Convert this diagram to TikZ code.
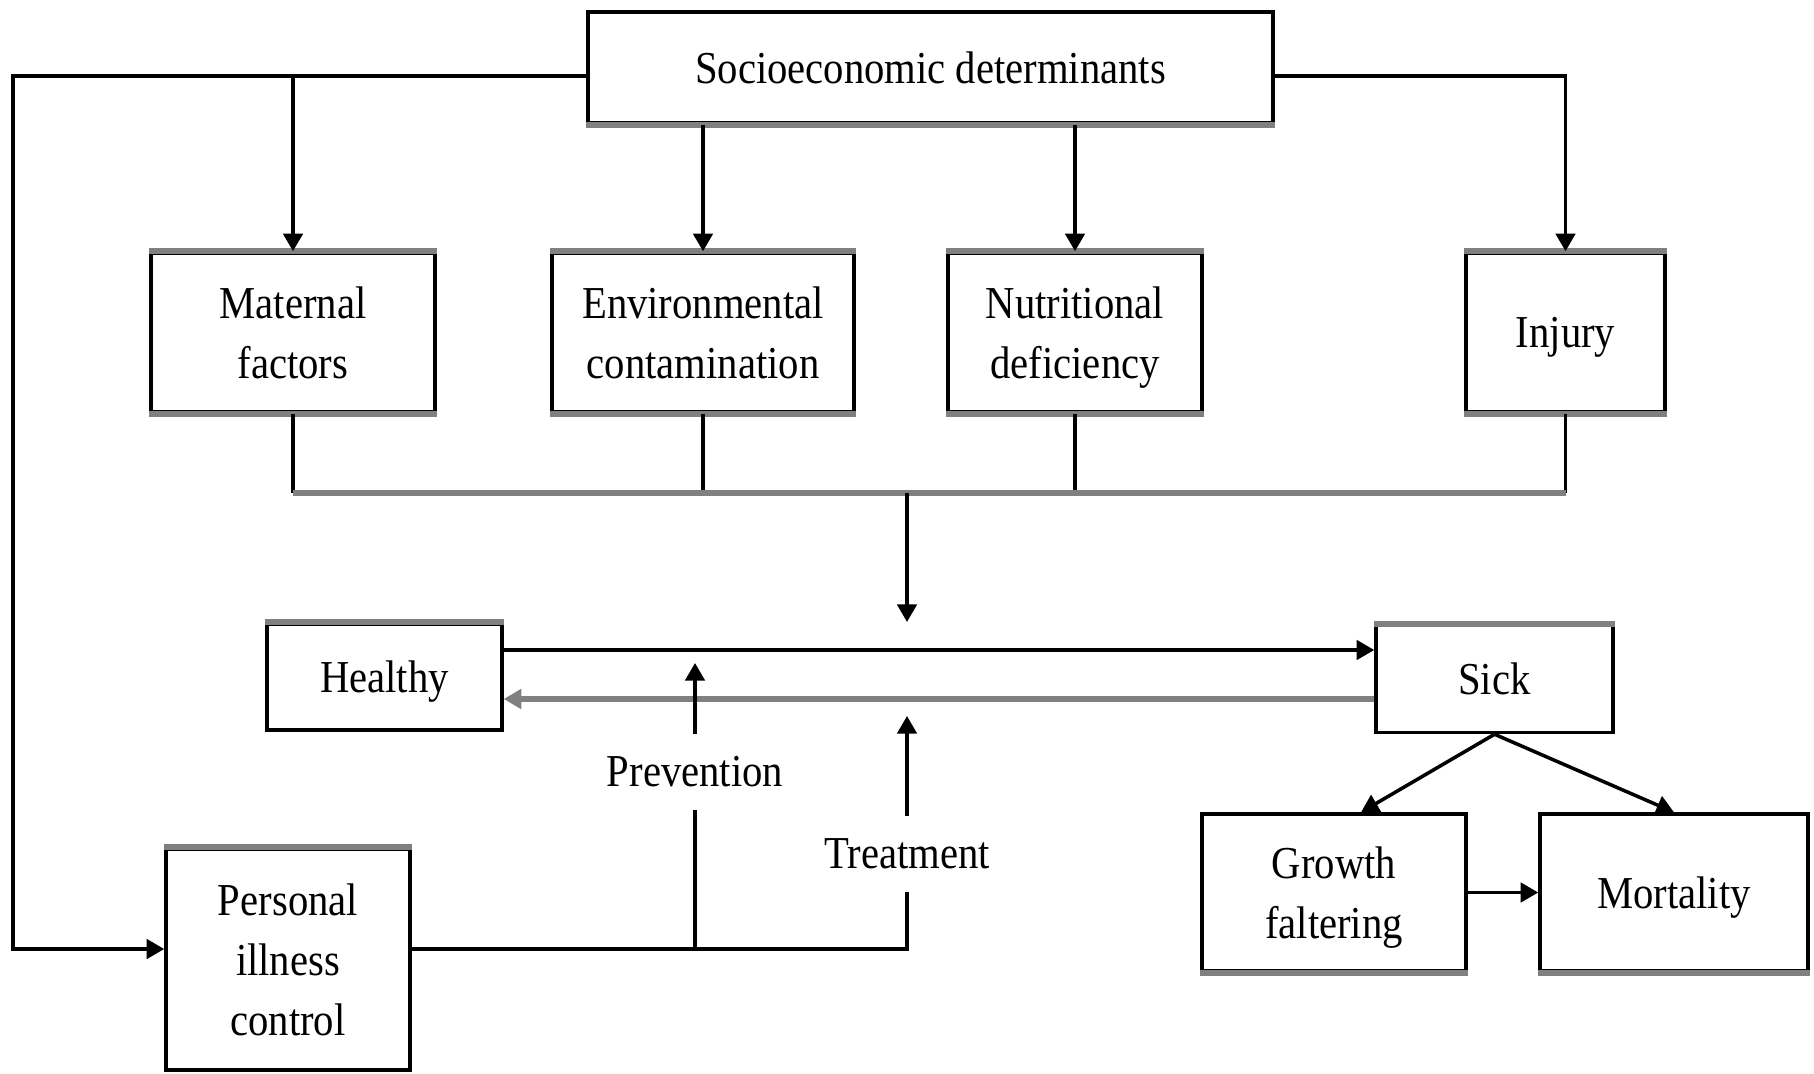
\documentclass[tikz,border=0pt]{standalone}
\usepackage{fontspec}
\setmainfont[FakeStretch=0.89]{Liberation Serif}
\usetikzlibrary{arrows.meta}

\begin{document}
\begin{tikzpicture}[
  box/.style={draw=black, line width=1pt, align=center, inner sep=0pt,
              text depth=0pt, font=\fontsize{13}{17}\selectfont},
  wire/.style={draw=black, line width=1pt},
  arr/.style={wire, -{Triangle[length=5pt,width=5.5pt]}},
  heavy/.style={draw=black!50, line width=1.8pt},
  lbl/.style={inner xsep=2pt, inner ysep=0.22cm, font=\fontsize{13}{17}\selectfont}
]
\useasboundingbox (0,0) rectangle (18.14,10.73);

% boxes
\node[box, minimum width=6.85cm, minimum height=1.11cm] (socio) at (9.305,10.055) {Socioeconomic determinants};
\node[box, minimum width=2.84cm, minimum height=1.59cm] (maternal) at (2.93,7.405) {Maternal\\factors};
\node[box, minimum width=3.02cm, minimum height=1.59cm] (env) at (7.03,7.405) {Environmental\\contamination};
\node[box, minimum width=2.54cm, minimum height=1.59cm] (nutr) at (10.75,7.405) {Nutritional\\deficiency};
\node[box, minimum width=1.99cm, minimum height=1.59cm] (injury) at (15.655,7.405) {Injury};
\node[box, minimum width=2.35cm, minimum height=1.06cm] (healthy) at (3.845,3.96) {Healthy};
\node[box, minimum width=2.37cm, minimum height=1.07cm] (sick) at (14.945,3.94) {Sick};
\node[box, minimum width=2.44cm, minimum height=2.21cm] (personal) at (2.88,1.135) {Personal\\illness\\control};
\node[box, minimum width=2.64cm, minimum height=1.57cm] (growth) at (13.34,1.805) {Growth\\faltering};
\node[box, minimum width=2.68cm, minimum height=1.57cm] (mortality) at (16.74,1.805) {Mortality};

% labels on the control lines
\node[lbl] (prev) at (6.95,3.01) {Prevention};
\node[lbl] (treat) at (9.07,2.19) {Treatment};

% heavier grey edges
\draw[heavy] (socio.south west) -- (socio.south east);
\foreach \n in {maternal,env,nutr,injury}{
  \draw[heavy] (\n.north west) -- (\n.north east);
  \draw[heavy] (\n.south west) -- (\n.south east);
}
\draw[heavy] (healthy.north west) -- (healthy.north east);
\draw[heavy] (sick.north west) -- (sick.north east);
\draw[heavy] (personal.north west) -- (personal.north east);
\draw[heavy] (growth.south west) -- (growth.south east);
\draw[heavy] (mortality.south west) -- (mortality.south east);

% routing points
\coordinate (topL) at (0.13,9.97);
\coordinate (join) at (9.07,5.80);
\coordinate (dtip) at (9.07,4.51);
\coordinate (pvtip) at (6.95,4.10);
\coordinate (trtip) at (9.07,3.57);
\coordinate (pjoin) at (9.07,1.24);

% socioeconomic determinants to each factor
\draw[arr] (socio.west |- topL) -- (topL) |- (personal.west |- pjoin);
\draw[arr] (maternal.north |- topL) -- (maternal.north);
\draw[arr] (env.north |- socio.south) -- (env.north);
\draw[arr] (nutr.north |- socio.south) -- (nutr.north);
\draw[arr] (socio.east |- topL) -- (injury.north |- topL) -- (injury.north);

% factors merge into the health transition
\draw[wire] (maternal.south) -- (maternal.south |- join);
\draw[wire] (env.south) -- (env.south |- join);
\draw[wire] (nutr.south) -- (nutr.south |- join);
\draw[wire] (injury.south) -- (injury.south |- join);
\draw[heavy] (maternal.south |- join) -- (injury.south |- join);
\draw[arr] (join) -- (dtip);

% healthy <-> sick
\draw[arr] ([yshift=0.27cm]healthy.east) -- ([yshift=0.27cm]healthy.east -| sick.west);
\draw[heavy, -{Triangle[length=5pt,width=5.5pt]}] ([yshift=-0.22cm]healthy.east -| sick.west) -- ([yshift=-0.22cm]healthy.east);

% personal illness control
\draw[wire] (personal.east |- pjoin) -- (pjoin) -- (treat.south);
\draw[wire] (prev.south) -- (prev.south |- pjoin);
\draw[arr] (prev.north) -- (pvtip);
\draw[arr] (treat.north) -- (trtip);

% outcomes of sickness
\draw[arr] (sick.south) -- ([xshift=0.27cm]growth.north);
\draw[arr] (sick.south) -- (mortality.north);
\draw[arr] (growth.east) -- (mortality.west);
\end{tikzpicture}
\end{document}
